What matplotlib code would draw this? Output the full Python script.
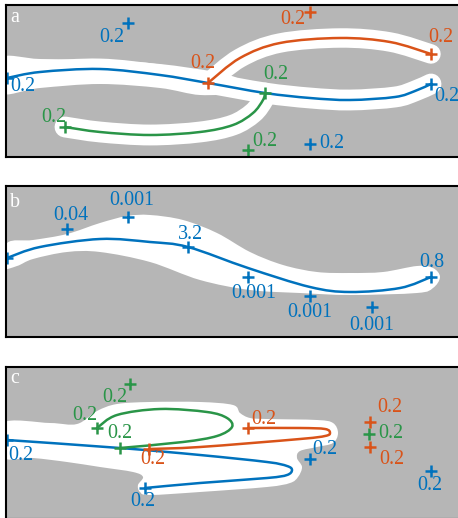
import numpy as np
import matplotlib
matplotlib.use("Agg")
import matplotlib.pyplot as plt
from matplotlib.path import Path
from matplotlib.patches import PathPatch

plt.rcParams['font.family'] = ['Liberation Serif', 'DejaVu Serif']

BLUE = '#0072BD'
ORANGE = '#D95319'
GREEN = '#2A9548'
GRAY = '#B6B6B6'

# panel a: curves (points along each branch)
a_blue_curve = [(7, 78), (40, 72), (100, 69), (160, 75), (208, 83), (265, 93),
                (310, 98), (350, 100), (395, 97), (415, 91), (431, 84)]
a_orange_curve = [(208, 83), (240, 58), (280, 43), (340, 38), (390, 42), (431, 54)]
a_green_curve = [(265, 93), (263, 100), (253, 113), (233, 125), (200, 132),
                 (150, 135), (100, 132), (65, 127)]
a_blue_pts = [(7, 78), (431, 84), (128, 23), (310, 144)]
a_orange_pts = [(208, 83), (431, 54), (310, 12)]
a_green_pts = [(265, 93), (65, 127), (248, 150)]
a_blue_lbl = ['0.2', '0.2', '0.2', '0.2']
a_orange_lbl = ['0.2', '0.2', '0.2']
a_green_lbl = ['0.2', '0.2', '0.2']
# white corridor along the left part of the blue branch
a_band = [(0, 58), (40, 59), (100, 60), (160, 64), (215, 72), (240, 80),
          (235, 92), (200, 95), (160, 88), (100, 84), (40, 88), (0, 93)]

# panel b
b_blue_curve = [(7, 258), (40, 247), (100, 239), (150, 242), (188, 247), (248, 268),
                (310, 287), (350, 292), (400, 288), (431, 277)]
b_blue_pts = [(7, 258), (67, 229), (128, 217), (188, 247), (248, 277), (310, 296),
              (372, 307), (431, 277)]
b_blue_lbl = ['', '0.04', '0.001', '3.2', '0.001', '0.001', '0.001', '0.8']
b_band = [(7, 243), (33, 240), (67, 234), (100, 223), (127, 216), (150, 215),
          (183, 220), (217, 233), (250, 252), (283, 265), (317, 272), (350, 273),
          (383, 272), (417, 266), (433, 268), (440, 277), (433, 288), (417, 293),
          (350, 295), (300, 293), (250, 290), (200, 280), (150, 262), (100, 252),
          (67, 252), (33, 259), (17, 266), (2, 268)]

# panel c
c_blue_curve = [(7, 440), (120, 448), (200, 455), (267, 462), (287, 466), (292, 470),
                (287, 475), (267, 478), (200, 483), (145, 488)]
c_green_curve = [(120, 448), (183, 442), (217, 436), (232, 427), (227, 418),
                 (207, 412), (160, 409), (117, 415), (97, 428)]
c_orange_curve = [(149, 449), (200, 447), (300, 439), (325, 436), (330, 433),
                  (325, 429), (300, 428), (248, 428)]
c_blue_pts = [(7, 440), (145, 488), (310, 459), (431, 471)]
c_green_pts = [(97, 428), (120, 448), (130, 384), (369, 434)]
c_orange_pts = [(149, 449), (248, 428), (370, 422), (370, 447)]
c_blue_lbl = ['0.2', '0.2', '0.2', '0.2']
c_green_lbl = ['0.2', '0.2', '0.2', '0.2']
c_orange_lbl = ['0.2', '0.2', '0.2', '0.2']
c_band = [(2, 423), (50, 423), (77, 424), (97, 411), (117, 404), (150, 402),
          (200, 402), (233, 405), (240, 413), (250, 418), (267, 419), (317, 420),
          (333, 423), (338, 433), (333, 443), (317, 447), (300, 451), (297, 458),
          (302, 467), (298, 477), (290, 483), (267, 487), (200, 492), (150, 495),
          (140, 492), (138, 485), (143, 477), (133, 472), (100, 467), (67, 462),
          (33, 458), (2, 457)]

# label offsets (pixels, x right / y down)
a_blue_off = [(16, 9), (16, 13), (-16, 15), (22, -1)]
a_orange_off = [(-5, -19), (10, -16), (-17, 8)]
a_green_off = [(11, -18), (-11, -10), (17, -8)]
b_blue_off = [(0, 0), (4, -14), (4, -17), (3, -13), (6, 16), (0, 16), (0, 18), (1, -15)]
c_blue_off = [(14, 15), (-2, 14), (15, -10), (-1, 15)]
c_green_off = [(-12, -13), (0, -15), (-15, 13), (22, 0)]
c_orange_off = [(4, 11), (16, -8), (20, -14), (22, 12)]


def smooth(points, closed=False):
    p = np.asarray(points, float)
    if closed:
        P = np.vstack([p[-1], p, p[0], p[1]])
    else:
        P = np.vstack([p[0], p, p[-1]])
    verts = [P[1]]
    codes = [Path.MOVETO]
    for i in range(1, len(P) - 2):
        p0, p1, p2, p3 = P[i - 1], P[i], P[i + 1], P[i + 2]
        verts += [p1 + (p2 - p0) / 6, p2 - (p3 - p1) / 6, p2]
        codes += [Path.CURVE4] * 3
    if closed:
        verts.append(P[1])
        codes.append(Path.CLOSEPOLY)
    return Path(verts, codes)


def line(ax, pts, color, lw=1.8, z=3, cap='round'):
    ax.add_patch(PathPatch(smooth(pts), fill=False, edgecolor=color, lw=lw,
                           capstyle=cap, joinstyle='round', zorder=z))


def blob(ax, pts):
    ax.add_patch(PathPatch(smooth(pts, closed=True), facecolor='white',
                           edgecolor='none', zorder=2))


def marks(ax, pts, labels, offs, color):
    for (x, y), s, (dx, dy) in zip(pts, labels, offs):
        ax.plot(x, y, '+', color=color, ms=9, mew=1.8, zorder=5)
        if s:
            ax.annotate(s, (x, y), xytext=(dx * 0.72, -dy * 0.72),
                        textcoords='offset points', ha='center', va='center',
                        fontsize=14.4, color=color, zorder=6)


W, H = 458, 518
fig = plt.figure(figsize=(W / 100, H / 100), dpi=100)
panels = [(5, 157), (186, 337), (367, 519)]
axes = []
for top, bot in panels:
    ax = fig.add_axes([6 / W, 1 - bot / H, (470 - 6) / W, (bot - top) / H])
    ax.set_xlim(6, 470)
    ax.set_ylim(bot, top)
    ax.set_facecolor(GRAY)
    ax.set_xticks([])
    ax.set_yticks([])
    for s in ax.spines.values():
        s.set_linewidth(1.5)
        s.set_zorder(10)
    axes.append(ax)

letters = ['a', 'b', 'c']
letter_base = [22, 207, 383]
for ax, t, yb in zip(axes, letters, letter_base):
    ax.text(10, yb, t, color='white', fontsize=14.4, ha='left', va='baseline',
            zorder=7)

# panel a
ax = axes[0]
blob(ax, a_band)
line(ax, a_blue_curve, 'white', lw=15, z=2)
line(ax, a_orange_curve, 'white', lw=14, z=2)
line(ax, a_green_curve, 'white', lw=15, z=2)
line(ax, a_blue_curve, BLUE)
line(ax, a_orange_curve, ORANGE)
line(ax, a_green_curve, GREEN)
marks(ax, a_blue_pts, a_blue_lbl, a_blue_off, BLUE)
marks(ax, a_orange_pts, a_orange_lbl, a_orange_off, ORANGE)
marks(ax, a_green_pts, a_green_lbl, a_green_off, GREEN)

# panel b
ax = axes[1]
blob(ax, b_band)
line(ax, b_blue_curve, BLUE)
marks(ax, b_blue_pts, b_blue_lbl, b_blue_off, BLUE)

# panel c
ax = axes[2]
blob(ax, c_band)
line(ax, c_blue_curve, BLUE)
line(ax, c_green_curve, GREEN)
line(ax, c_orange_curve, ORANGE)
marks(ax, c_blue_pts, c_blue_lbl, c_blue_off, BLUE)
marks(ax, c_green_pts, c_green_lbl, c_green_off, GREEN)
marks(ax, c_orange_pts, c_orange_lbl, c_orange_off, ORANGE)

fig.savefig('out.png', dpi=100)
